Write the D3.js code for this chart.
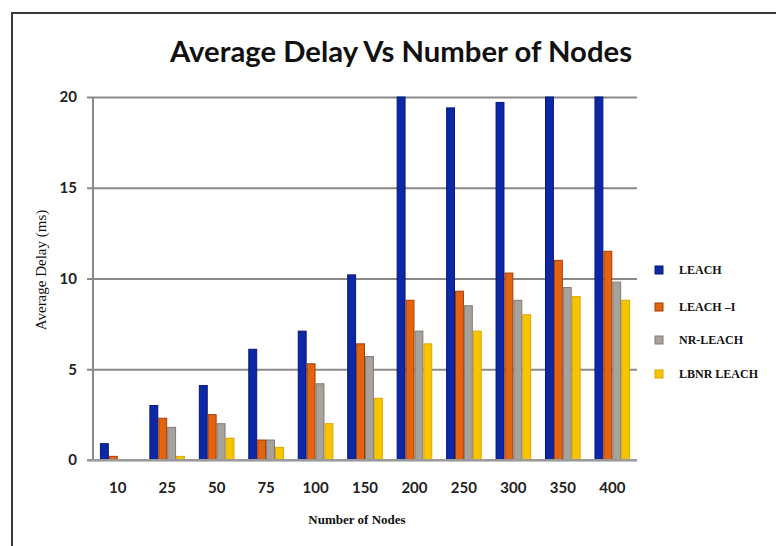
<!DOCTYPE html>
<html>
<head>
<meta charset="utf-8">
<script src="https://cdn.jsdelivr.net/npm/d3@7/dist/d3.min.js"></script>
<style>
  html, body { margin: 0; padding: 0; background: #fff; }
  svg { display: block; }
</style>
</head>
<body>
<svg id="chart" width="776" height="546"></svg>
<script>
// Node counts on the x axis
const nodeCounts = ["10", "25", "50", "75", "100", "150", "200", "250", "300", "350", "400"];

// Protocol series names (legend order)
const seriesNames = ["LEACH", "LEACH \u2013I", "NR-LEACH", "LBNR LEACH"];

// Average delay (ms) per node count, one array per protocol
const leach     = [0.9, 3.0, 4.1, 6.1, 7.1, 10.2, 20.0, 19.4, 19.7, 20.0, 20.0];
const leachI    = [0.2, 2.3, 2.5, 1.1, 5.3, 6.4, 8.8, 9.3, 10.3, 11.0, 11.5];
const nrLeach   = [0.0, 1.8, 2.0, 1.1, 4.2, 5.7, 7.1, 8.5, 8.8, 9.5, 9.8];
const lbnrLeach = [0.0, 0.2, 1.2, 0.7, 2.0, 3.4, 6.4, 7.1, 8.0, 9.0, 8.8];

// Y axis tick values
const yTicks = [0, 5, 10, 15, 20];

const seriesValues = [leach, leachI, nrLeach, lbnrLeach];
const fills   = ["#0c28a4", "#e3640f", "#a8a29c", "#f7c400"];
const strokes = ["#06187a", "#a83a0a", "#7e7a76", "#dca600"];

const svg = d3.select("#chart");

// Outer frame (top and left edges visible)
svg.append("path")
  .attr("d", "M12,560 L12,13 L790,13")
  .attr("fill", "none")
  .attr("stroke", "#3a3a3a")
  .attr("stroke-width", 2);

// Title
svg.append("text")
  .attr("x", 401)
  .attr("y", 62)
  .attr("text-anchor", "middle")
  .attr("font-family", "Lato, 'Open Sans', sans-serif")
  .attr("font-weight", "bold")
  .attr("font-size", 28)
  .attr("textLength", 462)
  .attr("lengthAdjust", "spacingAndGlyphs")
  .attr("fill", "#111")
  .text("Average Delay Vs Number of Nodes");

const plot = { left: 93, right: 637, top: 97, bottom: 460 };

const x = d3.scaleBand()
  .domain(nodeCounts)
  .range([plot.left, plot.right])
  .paddingInner(0.28)
  .paddingOuter(0.14);

const xSeries = d3.scaleBand()
  .domain(d3.range(seriesNames.length))
  .range([0, x.bandwidth()]);

const y = d3.scaleLinear()
  .domain([0, 20])
  .range([plot.bottom, plot.top]);

// Horizontal gridlines with tick stubs
const yAxis = d3.axisLeft(y)
  .tickValues(yTicks)
  .tickSize(-(plot.right - plot.left))
  .tickPadding(16)
  .tickFormat(d3.format("d"));

const gy = svg.append("g")
  .attr("transform", `translate(${plot.left},0)`)
  .call(yAxis);
gy.select(".domain").remove();
gy.selectAll(".tick line")
  .attr("x1", -6)
  .attr("stroke", "#8a8a8a")
  .attr("stroke-width", 2);
gy.selectAll(".tick text")
  .attr("font-family", "Lato, 'Open Sans', sans-serif")
  .attr("font-weight", "bold")
  .attr("font-size", 15)
  .attr("fill", "#222");

// Vertical axis line
svg.append("line")
  .attr("x1", plot.left).attr("x2", plot.left)
  .attr("y1", plot.top).attr("y2", plot.bottom)
  .attr("stroke", "#8a8a8a")
  .attr("stroke-width", 2);

// Bars
const groups = svg.append("g")
  .selectAll("g")
  .data(nodeCounts)
  .join("g")
  .attr("transform", d => `translate(${x(d)},0)`);

groups.selectAll("rect")
  .data((d, i) => seriesValues.map((vals, s) => ({ s, v: vals[i] })))
  .join("rect")
  .filter(d => d.v > 0)
  .attr("x", d => xSeries(d.s) + 0.5)
  .attr("y", d => y(d.v))
  .attr("width", xSeries.bandwidth() - 1)
  .attr("height", d => plot.bottom - y(d.v))
  .attr("fill", d => fills[d.s])
  .attr("stroke", d => strokes[d.s])
  .attr("stroke-width", 1);

// X axis with category labels
const xAxis = d3.axisBottom(x).tickSize(0).tickPadding(22);
const gx = svg.append("g")
  .attr("transform", `translate(0,${plot.bottom})`)
  .call(xAxis);
gx.select(".domain")
  .attr("d", `M${plot.left - 6},0H${plot.right}`)
  .attr("stroke", "#9a9a9a")
  .attr("stroke-width", 2);
gx.selectAll(".tick text")
  .attr("font-family", "Lato, 'Open Sans', sans-serif")
  .attr("font-weight", "bold")
  .attr("font-size", 15)
  .attr("fill", "#222");

// Axis titles
svg.append("text")
  .attr("transform", "translate(46,270) rotate(-90)")
  .attr("text-anchor", "middle")
  .attr("font-family", "'Liberation Serif', 'Times New Roman', serif")
  .attr("font-size", 15)
  .attr("fill", "#111")
  .text("Average Delay (ms)");

svg.append("text")
  .attr("x", 357)
  .attr("y", 524)
  .attr("text-anchor", "middle")
  .attr("font-family", "'Liberation Serif', 'Times New Roman', serif")
  .attr("font-weight", "bold")
  .attr("font-size", 13)
  .attr("fill", "#111")
  .text("Number of Nodes");

// Legend
const legendY = [270, 307, 340, 374];
const legend = svg.append("g")
  .selectAll("g")
  .data(seriesNames)
  .join("g")
  .attr("transform", (d, i) => `translate(655,${legendY[i]})`);

legend.append("rect")
  .attr("x", 0).attr("y", -4)
  .attr("width", 8).attr("height", 8)
  .attr("fill", (d, i) => fills[i])
  .attr("stroke", (d, i) => strokes[i])
  .attr("stroke-width", 1);

legend.append("text")
  .attr("x", 24)
  .attr("y", 4)
  .attr("font-family", "'Liberation Serif', 'Times New Roman', serif")
  .attr("font-weight", "bold")
  .attr("font-size", 12)
  .attr("fill", "#111")
  .text(d => d);
</script>
</body>
</html>
